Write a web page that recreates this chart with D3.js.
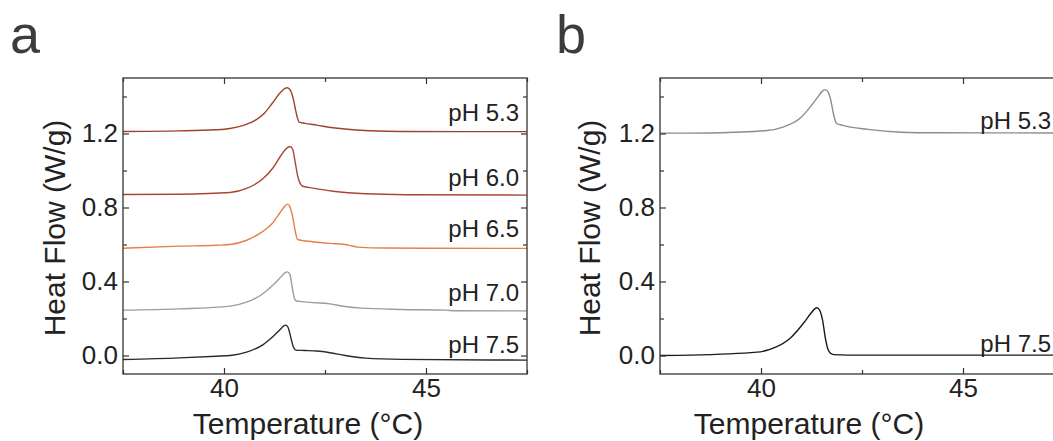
<!DOCTYPE html>
<html>
<head>
<meta charset="utf-8">
<script src="https://cdn.jsdelivr.net/npm/d3@7"></script>
<style>
  html, body { margin: 0; padding: 0; background: #fff; }
  svg { display: block; }
  text { font-family: "Liberation Sans", Arial, Helvetica, sans-serif; }
</style>
</head>
<body>
<svg id="chart" width="1053" height="441"></svg>
<script>
// ---------- data ----------
const xTicksMajor = [40, 45];
const xTicksMinor = [37.5, 42.5, 47.5];
const yTicksMajor = [0.0, 0.4, 0.8, 1.2];
const yTicksMinor = [0.2, 0.6, 1.0, 1.4];

// Panel a
const tempA53 = [37.5, 38.9, 39.8, 40.15, 40.5, 40.8, 41.0, 41.2, 41.39, 41.5, 41.56, 41.63, 41.7, 41.76, 41.81, 41.86, 42.0, 42.3, 42.7, 43.2, 43.6, 44.4, 47.5];
const flowA53 = [1.211, 1.214, 1.22, 1.227, 1.245, 1.275, 1.31, 1.365, 1.42, 1.442, 1.447, 1.438, 1.40, 1.34, 1.29, 1.262, 1.255, 1.245, 1.231, 1.22, 1.215, 1.211, 1.210];

const tempA60 = [37.5, 38.9, 40.15, 40.56, 40.97, 41.22, 41.43, 41.55, 41.63, 41.7, 41.75, 41.83, 41.9, 41.95, 42.2, 42.7, 43.5, 44.5, 47.5];
const flowA60 = [0.870, 0.872, 0.881, 0.903, 0.957, 1.016, 1.088, 1.12, 1.130, 1.115, 1.06, 0.965, 0.925, 0.915, 0.905, 0.888, 0.874, 0.869, 0.867];

const tempA65 = [37.5, 38.9, 39.8, 40.15, 40.56, 40.97, 41.2, 41.39, 41.5, 41.57, 41.63, 41.7, 41.77, 41.82, 42.2, 42.62, 43.0, 43.15, 43.3, 44.0, 47.5];
const flowA65 = [0.580, 0.591, 0.596, 0.600, 0.623, 0.672, 0.715, 0.773, 0.805, 0.818, 0.805, 0.75, 0.665, 0.627, 0.615, 0.606, 0.600, 0.593, 0.586, 0.581, 0.579];

const tempA70 = [37.5, 38.9, 40.15, 40.56, 40.97, 41.22, 41.39, 41.5, 41.57, 41.63, 41.68, 41.73, 41.78, 42.0, 42.62, 43.0, 43.4, 44.4, 45.5, 45.7, 47.5];
const flowA70 = [0.245, 0.252, 0.267, 0.288, 0.335, 0.382, 0.42, 0.445, 0.452, 0.44, 0.38, 0.32, 0.296, 0.29, 0.279, 0.265, 0.256, 0.249, 0.245, 0.242, 0.241];

const tempA75 = [37.5, 38.9, 39.8, 40.15, 40.56, 40.97, 41.22, 41.39, 41.48, 41.53, 41.59, 41.65, 41.72, 41.78, 42.0, 42.3, 42.62, 43.0, 43.5, 44.4, 47.5];
const flowA75 = [-0.022, -0.013, -0.004, 0.0, 0.018, 0.059, 0.104, 0.14, 0.160, 0.164, 0.15, 0.10, 0.045, 0.029, 0.027, 0.024, 0.015, 0.0, -0.014, -0.021, -0.025];

// Panel b
const tempB53 = [37.5, 38.25, 39.32, 40.15, 40.56, 40.98, 41.15, 41.4, 41.5, 41.59, 41.66, 41.73, 41.8, 41.87, 42.0, 42.64, 43.47, 44.3, 47.5];
const flowB53 = [1.202, 1.202, 1.207, 1.216, 1.236, 1.285, 1.325, 1.395, 1.425, 1.437, 1.425, 1.377, 1.30, 1.254, 1.245, 1.222, 1.207, 1.204, 1.203];

const tempB75 = [37.5, 38.25, 39.9, 40.32, 40.73, 41.06, 41.23, 41.33, 41.38, 41.45, 41.52, 41.6, 41.66, 41.72, 41.8, 42.5, 47.5];
const flowB75 = [0.0, 0.002, 0.018, 0.041, 0.095, 0.177, 0.227, 0.252, 0.258, 0.245, 0.195, 0.086, 0.032, 0.012, 0.005, 0.002, 0.002];

const labelsA = ["pH 5.3", "pH 6.0", "pH 6.5", "pH 7.0", "pH 7.5"];
const labelsB = ["pH 5.3", "pH 7.5"];
const labelYA = [1.265, 0.915, 0.638, 0.292, 0.016];
const labelYB = [1.225, 0.021];

// ---------- drawing ----------
const svg = d3.select("#chart");
const FONT_TICK = 26, FONT_TITLE = 30, FONT_PH = 24;

function panel(opts) {
  const { left, right, top, bottom, series, labels, labelY, labelRight, letter, letterX, ytitleX, xtitleX } = opts;
  const g = svg.append("g");
  const x = d3.scaleLinear().domain([37.5, 47.5]).range([left, right]);
  const y = d3.scaleLinear().domain([-0.1, 1.5]).range([bottom, top]);

  const cid = "clip" + letter;
  svg.append("clipPath").attr("id", cid).append("rect")
    .attr("x", left).attr("y", top).attr("width", right - left).attr("height", bottom - top);

  const line = d3.line().x(d => x(d[0])).y(d => y(d[1])).curve(d3.curveMonotoneX);
  const lines = g.append("g").attr("clip-path", `url(#${cid})`);
  series.forEach(s => {
    const pts = s.t.map((t, i) => [t, s.v[i]]);
    lines.append("path").attr("d", line(pts)).attr("fill", "none")
      .attr("stroke", s.color).attr("stroke-width", 1.4);
  });

  const axColor = "#333";
  function styleAxis(sel) {
    sel.select(".domain").remove();
    sel.selectAll(".tick line").attr("stroke", axColor).attr("stroke-width", 1.2);
    sel.selectAll("text").attr("fill", "#222").style("font-size", FONT_TICK + "px");
  }
  g.append("g").attr("transform", `translate(0,${bottom})`)
    .call(d3.axisBottom(x).tickValues(xTicksMajor).tickSize(-6).tickPadding(5).tickFormat(d3.format("d")))
    .call(styleAxis);
  g.append("g").attr("transform", `translate(0,${bottom})`)
    .call(d3.axisBottom(x).tickValues(xTicksMinor).tickSize(-4).tickFormat(""))
    .call(styleAxis);
  g.append("g").attr("transform", `translate(0,${top})`)
    .call(d3.axisTop(x).tickValues(xTicksMajor).tickSize(-6).tickFormat(""))
    .call(styleAxis);
  g.append("g").attr("transform", `translate(0,${top})`)
    .call(d3.axisTop(x).tickValues(xTicksMinor).tickSize(-4).tickFormat(""))
    .call(styleAxis);
  g.append("g").attr("transform", `translate(${left},0)`)
    .call(d3.axisLeft(y).tickValues(yTicksMajor).tickSize(-6).tickPadding(5).tickFormat(d3.format(".1f")))
    .call(styleAxis);
  g.append("g").attr("transform", `translate(${left},0)`)
    .call(d3.axisLeft(y).tickValues(yTicksMinor).tickSize(-4).tickFormat(""))
    .call(styleAxis);
  g.append("g").attr("transform", `translate(${right},0)`)
    .call(d3.axisRight(y).tickValues(yTicksMajor).tickSize(-6).tickFormat(""))
    .call(styleAxis);
  g.append("g").attr("transform", `translate(${right},0)`)
    .call(d3.axisRight(y).tickValues(yTicksMinor).tickSize(-4).tickFormat(""))
    .call(styleAxis);

  g.append("rect").attr("x", left).attr("y", top).attr("width", right - left).attr("height", bottom - top)
    .attr("fill", "none").attr("stroke", axColor).attr("stroke-width", 1.3);

  labels.forEach((lab, i) => {
    g.append("text").attr("x", labelRight).attr("y", y(labelY[i]))
      .attr("text-anchor", "end").attr("fill", "#222")
      .style("font-size", FONT_PH + "px").text(lab);
  });

  g.append("text").attr("x", xtitleX).attr("y", 434).attr("text-anchor", "middle")
    .attr("fill", "#222").style("font-size", FONT_TITLE + "px").text("Temperature (°C)");
  g.append("text").attr("transform", `translate(${ytitleX},${(top + bottom) / 2 + 2}) rotate(-90)`)
    .attr("text-anchor", "middle").attr("fill", "#222")
    .style("font-size", FONT_TITLE + "px").text("Heat Flow (W/g)");

  g.append("text").attr("x", letterX).attr("y", 53).attr("fill", "#3c3c3c")
    .style("font-size", "54px").text(letter);
}

panel({
  left: 123, right: 527, top: 78, bottom: 374,
  series: [
    { t: tempA53, v: flowA53, color: "#a0412a" },
    { t: tempA60, v: flowA60, color: "#a8472d" },
    { t: tempA65, v: flowA65, color: "#e5804a" },
    { t: tempA70, v: flowA70, color: "#9c9c9c" },
    { t: tempA75, v: flowA75, color: "#2a2a2a" }
  ],
  labels: labelsA, labelY: labelYA, labelRight: 519, letter: "a", letterX: 10, ytitleX: 65, xtitleX: 308
});

panel({
  left: 660, right: 1064, top: 78, bottom: 374,
  series: [
    { t: tempB53, v: flowB53, color: "#8c8c8c" },
    { t: tempB75, v: flowB75, color: "#1a1a1a" }
  ],
  labels: labelsB, labelY: labelYB, labelRight: 1051, letter: "b", letterX: 556, ytitleX: 600, xtitleX: 809
});
</script>
</body>
</html>
